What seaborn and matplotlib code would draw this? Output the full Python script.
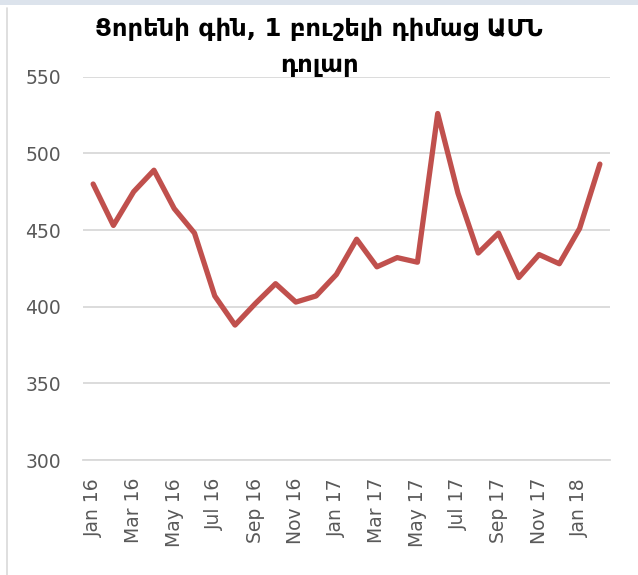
import matplotlib
matplotlib.use("Agg")
import matplotlib.pyplot as plt
import seaborn as sns
import pandas as pd
from matplotlib.lines import Line2D
from matplotlib.patches import Rectangle

months = ["Jan 16", "Feb 16", "Mar 16", "Apr 16", "May 16", "Jun 16", "Jul 16", "Aug 16",
          "Sep 16", "Oct 16", "Nov 16", "Dec 16", "Jan 17", "Feb 17", "Mar 17", "Apr 17",
          "May 17", "Jun 17", "Jul 17", "Aug 17", "Sep 17", "Oct 17", "Nov 17", "Dec 17",
          "Jan 18", "Feb 18"]
prices = [480, 453, 475, 489, 464, 448, 407, 388, 402, 415, 403, 407, 421, 444, 426, 432,
          429, 526, 474, 435, 448, 419, 434, 428, 451, 493]
yticks = [300, 350, 400, 450, 500, 550]
title = "Ցորենի գին, 1 բուշելի դիմաց ԱՄՆ\nդոլար"

sns.set_theme(style="white")
plt.rcParams['font.family'] = ['DejaVu Sans']

df = pd.DataFrame({"idx": range(len(months)), "price": prices})

fig = plt.figure(figsize=(6.38, 5.75), dpi=100)
ax = fig.add_axes([83/638, 1-460/575, (610-83)/638, (460-76.7)/575])
sns.lineplot(data=df, x="idx", y="price", ax=ax, color="#C0504D", linewidth=3.8,
             solid_joinstyle="round", solid_capstyle="round")

ax.set_xlim(-0.5, len(months)-0.5)
ax.set_ylim(300, 550)
ax.set_yticks(yticks)
ax.set_yticklabels([str(v) for v in yticks])
ax.set_xticks(range(0, len(months), 2))
ax.set_xticklabels(months[::2], rotation=90)
ax.tick_params(axis="both", length=0, labelsize=13.5, labelcolor="#595959")
ax.tick_params(axis="x", pad=13)
ax.tick_params(axis="y", pad=16)
ax.grid(axis="y", color="#D9D9D9", linewidth=1.3)
ax.set_axisbelow(True)
for s in ["left", "right", "top"]:
    ax.spines[s].set_visible(False)
ax.spines["bottom"].set_color("#D9D9D9")
ax.spines["bottom"].set_linewidth(1.3)
ax.set_xlabel("")
ax.set_ylabel("")

fig.text(0.5, 1-17/575, title, ha="center", va="top", fontsize=17.5, fontweight="bold",
         color="black", linespacing=1.62)

fig.add_artist(Line2D([7/638, 7/638], [0, 1-8/575], transform=fig.transFigure,
                      color="#D9D9D9", linewidth=1.2))
fig.add_artist(Rectangle((0, 1-5/575), 1, 5/575, transform=fig.transFigure,
                         color="#DCE3EC", linewidth=0))

fig.savefig("out.png", dpi=100)
